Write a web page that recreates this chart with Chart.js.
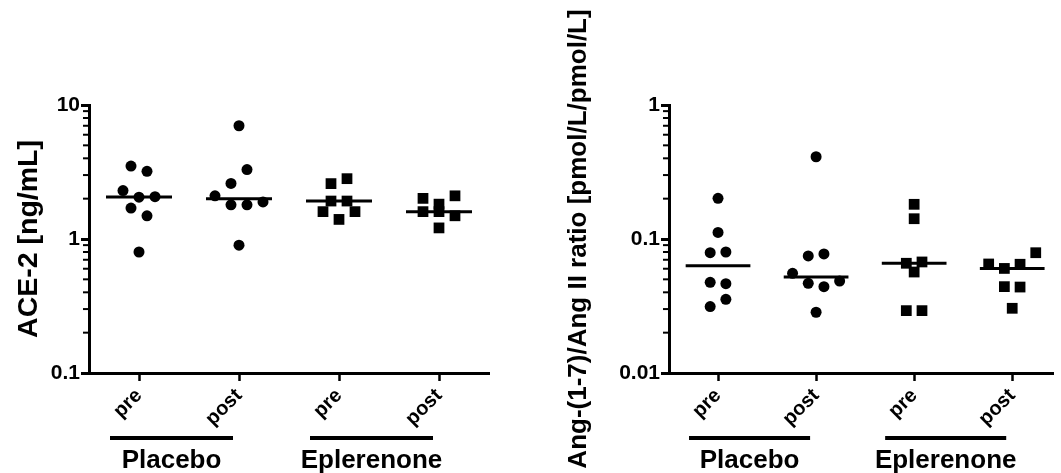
<!DOCTYPE html>
<html>
<head>
<meta charset="utf-8">
<script src="https://cdn.jsdelivr.net/npm/chart.js@4/dist/chart.umd.min.js"></script>
<style>
  body { margin: 0; background: #fff; width: 1061px; height: 473px; position: relative; overflow: hidden; }
  canvas { position: absolute; top: 0; }
  #ace2 { left: 0; }
  #ratio { left: 560px; }
</style>
</head>
<body>
<canvas id="ace2" width="500" height="473"></canvas>
<canvas id="ratio" width="501" height="473"></canvas>
<script>
var FONT = "'Liberation Sans', Arial, sans-serif";

var xLabels = ['pre', 'post', 'pre', 'post'];
var groupNames = ['Placebo', 'Eplerenone'];
var groupMarkers = ['circle', 'rect'];

// ACE-2 [ng/mL]
var ace2PlaceboPre = [3.5, 3.2, 2.3, 2.05, 2.07, 1.7, 1.49, 0.8];
var ace2PlaceboPost = [7.0, 2.6, 3.3, 2.1, 1.8, 1.8, 1.89, 0.9];
var ace2EplerenonePre = [2.59, 2.82, 1.92, 1.92, 1.6, 1.4, 1.6];
var ace2EplerenonePost = [2.01, 1.82, 2.1, 1.6, 1.6, 1.49, 1.21];
var ace2Ticks = [0.1, 1, 10];

// Ang-(1-7)/Ang II ratio
var ratioPlaceboPre = [0.201, 0.112, 0.079, 0.080, 0.0475, 0.0464, 0.0313, 0.0355];
var ratioPlaceboPost = [0.411, 0.0747, 0.0773, 0.0555, 0.0467, 0.0441, 0.0486, 0.0284];
var ratioEplerenonePre = [0.1815, 0.1417, 0.0659, 0.0674, 0.0567, 0.0292, 0.0292];
var ratioEplerenonePost = [0.0651, 0.0603, 0.0648, 0.079, 0.0441, 0.0438, 0.0304];
var ratioTicks = [0.01, 0.1, 1];

function median(arr) {
  var s = arr.slice().sort(function (a, b) { return a - b; });
  var m = Math.floor(s.length / 2);
  return s.length % 2 ? s[m] : (s[m - 1] + s[m]) / 2;
}

// points are binned into rows (in decades) and spread evenly around the column centre
function swarm(values, axisMin) {
  var rowH = 0.15575, gap = 0.16;
  var rows = {};
  values.forEach(function (v, j) {
    var r = Math.floor(Math.log10(v / axisMin) / rowH);
    (rows[r] = rows[r] || []).push(j);
  });
  var off = [];
  Object.keys(rows).forEach(function (r) {
    var idx = rows[r];
    idx.forEach(function (j, k) { off[j] = (k - (idx.length - 1) / 2) * gap; });
  });
  return off;
}

var decor = {
  id: 'decor',
  afterDraw: function (chart) {
    var o = chart.options.plugins.decor;
    var ctx = chart.ctx, xs = chart.scales.x, ys = chart.scales.y, area = chart.chartArea;
    ctx.save();
    ctx.strokeStyle = '#000';
    ctx.fillStyle = '#000';

    // minor log ticks
    ctx.lineWidth = 2;
    var e0 = Math.round(Math.log10(ys.min)), e1 = Math.round(Math.log10(ys.max));
    for (var e = e0; e < e1; e++) {
      for (var m = 2; m <= 9; m++) {
        var py = ys.getPixelForValue(m * Math.pow(10, e));
        ctx.beginPath();
        ctx.moveTo(area.left - 6, py);
        ctx.lineTo(area.left - 1, py);
        ctx.stroke();
      }
    }

    // y title
    ctx.font = 'bold ' + o.titleSize + 'px ' + FONT;
    ctx.textAlign = 'center';
    ctx.textBaseline = 'middle';
    ctx.translate(o.titleX, (area.top + area.bottom) / 2);
    ctx.rotate(-Math.PI / 2);
    ctx.fillText(o.title, 0, 0);
    ctx.setTransform(1, 0, 0, 1, 0, 0);

    // group bars and names
    ctx.font = 'bold 26px ' + FONT;
    ctx.textBaseline = 'alphabetic';
    groupNames.forEach(function (name, g) {
      var x0 = xs.getPixelForValue(2 * g) - 29;
      var x1 = xs.getPixelForValue(2 * g + 1) - 6;
      ctx.fillRect(x0, 436, x1 - x0, 4);
      ctx.fillText(name, (x0 + x1) / 2, 468);
    });
    ctx.restore();
  }
};

function makeChart(id, series, o) {
  var datasets = [];
  series.forEach(function (vals, i) {
    var off = swarm(vals, o.yMin);
    var marker = groupMarkers[Math.floor(i / 2)];
    datasets.push({
      data: vals.map(function (v, j) { return { x: i + off[j], y: v }; }),
      pointStyle: marker,
      pointRadius: marker === 'rect' ? 7.6 : 5.5,
      pointBorderWidth: 0,
      backgroundColor: '#000',
      borderColor: '#000',
      clip: false
    });
    var med = median(vals);
    datasets.push({
      data: [{ x: i - 0.33, y: med }, { x: i + 0.33, y: med }],
      showLine: true,
      borderColor: '#000',
      borderWidth: 3,
      pointRadius: 0,
      clip: false
    });
  });

  return new Chart(document.getElementById(id), {
    type: 'scatter',
    data: { datasets: datasets },
    options: {
      responsive: false,
      animation: false,
      layout: { padding: { top: 105, right: o.padRight, left: 0, bottom: 0 } },
      plugins: {
        legend: { display: false },
        tooltip: { enabled: false },
        decor: { title: o.title, titleSize: o.titleSize, titleX: o.titleX }
      },
      scales: {
        x: {
          type: 'linear',
          min: -0.5,
          max: o.xMax,
          border: { display: true, width: 3, color: '#000' },
          grid: { display: true, drawOnChartArea: false, drawTicks: true, tickLength: 8, tickWidth: 2.5, tickColor: '#000' },
          ticks: {
            color: '#000',
            font: { family: FONT, size: 20, weight: 'bold' },
            minRotation: 45,
            maxRotation: 45,
            padding: 3,
            autoSkip: false,
            callback: function (v) { return xLabels[v]; }
          },
          afterBuildTicks: function (a) { a.ticks = xLabels.map(function (_, i) { return { value: i }; }); },
          afterFit: function (a) { a.height = 100; }
        },
        y: {
          type: 'logarithmic',
          min: o.yMin,
          max: o.yMax,
          border: { display: true, width: 3, color: '#000' },
          grid: { display: true, drawOnChartArea: false, drawTicks: true, tickLength: 8, tickWidth: 3, tickColor: '#000' },
          ticks: {
            color: '#000',
            font: { family: FONT, size: 21, weight: 'bold' },
            padding: 1,
            callback: function (v) { return String(v); }
          },
          afterBuildTicks: function (a) { a.ticks = o.yTicks.map(function (v) { return { value: v }; }); },
          afterFit: function (a) { a.width = o.axisWidth; }
        }
      }
    },
    plugins: [decor]
  });
}

makeChart('ace2',
  [ace2PlaceboPre, ace2PlaceboPost, ace2EplerenonePre, ace2EplerenonePost],
  { yMin: 0.1, yMax: 10, yTicks: ace2Ticks, title: 'ACE-2 [ng/mL]', titleSize: 28.5, titleX: 29,
    axisWidth: 89, padRight: 11, xMax: 3.5 });

makeChart('ratio',
  [ratioPlaceboPre, ratioPlaceboPost, ratioEplerenonePre, ratioEplerenonePost],
  { yMin: 0.01, yMax: 1, yTicks: ratioTicks, title: 'Ang-(1-7)/Ang II ratio [pmol/L/pmol/L]', titleSize: 26, titleX: 19,
    axisWidth: 109, padRight: 0, xMax: 3.42 });
</script>
</body>
</html>
